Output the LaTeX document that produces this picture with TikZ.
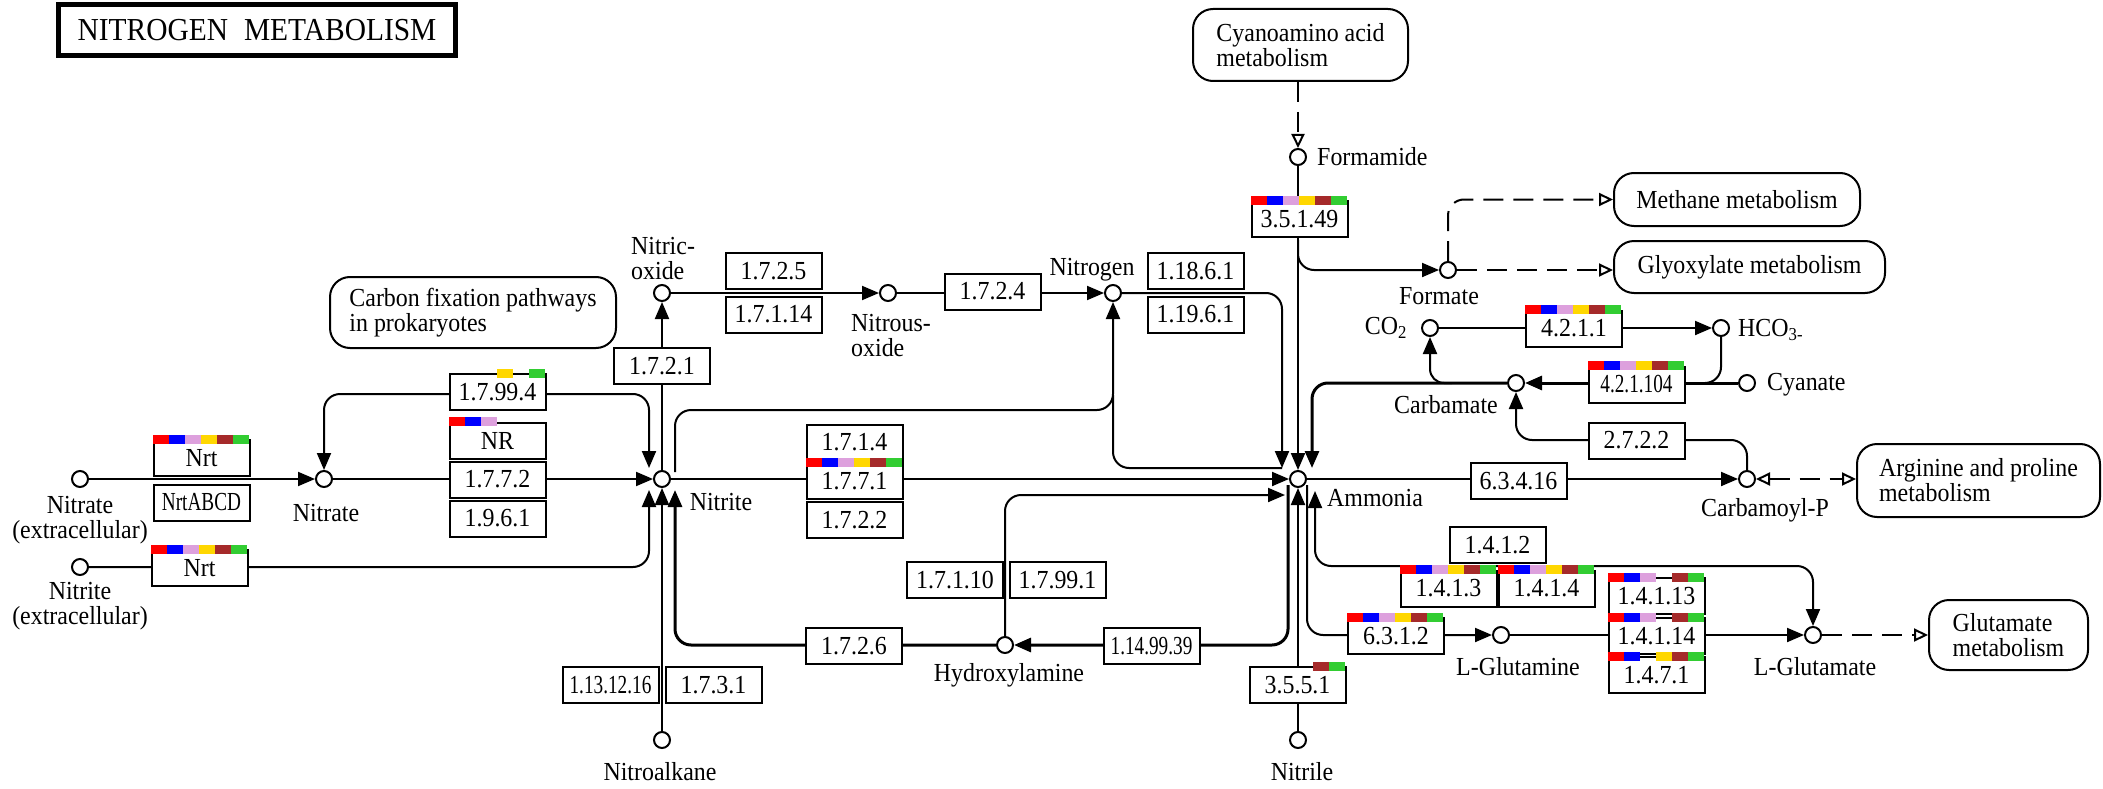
\documentclass[tikz,border=0pt]{standalone}
\usepackage{fontspec}
\setmainfont{Liberation Serif}[FakeStretch=0.92]
\newfontfamily\narrowf{Liberation Serif}[FakeStretch=0.74]
\usetikzlibrary{arrows.meta,calc}
\pgfdeclarelayer{bg}
\pgfsetlayers{bg,main}
\definecolor{c1}{HTML}{FF0000}
\definecolor{c2}{HTML}{0000FF}
\definecolor{c3}{HTML}{DDA0DD}
\definecolor{c4}{HTML}{FFD700}
\definecolor{c5}{HTML}{A52A2A}
\definecolor{c6}{HTML}{32CD32}
\newcommand\kfont{\fontsize{26}{25}\selectfont}
\newcommand\knarrow{\narrowf\fontsize{26}{25}\selectfont}
\newcommand\ktitle{\fontsize{32}{32}\selectfont}
\newcommand\cbar[2]{\foreach \s in {#2}{\fill[c\s] ($(#1.north west)+({(\s-1)*16},-4.5)$) rectangle ($(#1.north west)+({\s*16},4.5)$);}}
\begin{document}
\begin{tikzpicture}[x=1pt,y=-1pt,
  cpd/.style={circle,draw,fill=white,line width=2pt,minimum size=16pt,inner sep=0pt},
  ec/.style={draw,fill=white,line width=2pt,minimum width=96pt,minimum height=36pt,inner sep=0pt,font=\kfont},
  ecn/.style={ec,font=\knarrow},
  mapbox/.style={draw,fill=white,line width=2pt,rounded corners=20pt,align=left,inner sep=0pt,font=\kfont},
  lbl/.style={font=\kfont,inner sep=0pt},
  ln/.style={line width=2pt},
  lnb/.style={line width=3pt},
  arr/.style={-{Triangle[length=17pt,width=14pt]}},
  arrb/.style={{Triangle[length=17pt,width=14pt]}-{Triangle[length=17pt,width=14pt]}},
  oarr/.style={-{Triangle[open,length=14pt,width=13pt]}},
  oarrb/.style={{Triangle[open,length=14pt,width=13pt]}-{Triangle[open,length=14pt,width=13pt]}},
  dsh/.style={dash pattern=on 20pt off 10pt}]
\useasboundingbox (0,0) rectangle (2103,789);

% ---------- title and pathway maps ----------
\node[draw,line width=5pt,minimum width=397pt,minimum height=51pt,inner sep=0pt,font=\ktitle] (title) at (257,30) {NITROGEN\hspace{0.5em}METABOLISM};
\node[mapbox,minimum width=286pt,minimum height=71pt] (carbon) at (473,312.5) {Carbon fixation pathways\\in prokaryotes};
\node[mapbox,minimum width=215pt,minimum height=72pt] (cyano) at (1300.5,45) {Cyanoamino acid\\metabolism};
\node[mapbox,minimum width=246pt,minimum height=53pt] (methane) at (1737,199.5) {Methane metabolism};
\node[mapbox,minimum width=271pt,minimum height=52pt] (glyox) at (1749.5,267) {Glyoxylate metabolism};
\node[mapbox,minimum width=243pt,minimum height=73pt] (argmap) at (1978.5,480.5) {Arginine and proline\\metabolism};
\node[mapbox,minimum width=159pt,minimum height=70pt] (glumap) at (2008.5,635) {Glutamate\\metabolism};

% ---------- compounds ----------
\node[cpd] (nitrateEx) at (80,479) {};
\node[cpd] (nitriteEx) at (80,567) {};
\node[cpd] (nitrate) at (324,479) {};
\node[cpd] (nitrite) at (662,479) {};
\node[cpd] (nitric) at (662,293) {};
\node[cpd] (nitrous) at (888,293) {};
\node[cpd] (nitrogen) at (1113,293) {};
\node[cpd] (formamide) at (1298,157) {};
\node[cpd] (formate) at (1448,270) {};
\node[cpd] (co2) at (1430,328) {};
\node[cpd] (hco3) at (1721,328) {};
\node[cpd] (carbamate) at (1516,383) {};
\node[cpd] (cyanate) at (1747,383) {};
\node[cpd] (ammonia) at (1298,479) {};
\node[cpd] (carbamoylp) at (1747,479) {};
\node[cpd] (hydroxyl) at (1005,645) {};
\node[cpd] (nitroalkane) at (662,740) {};
\node[cpd] (nitrile) at (1298,740) {};
\node[cpd] (lgln) at (1501,635) {};
\node[cpd] (lglu) at (1813,635) {};

% ---------- compound labels ----------
\node[lbl,align=center] (lNitrateEx) at (80,520) {Nitrate\\(extracellular)};
\node[lbl,align=center] (lNitriteEx) at (80,606) {Nitrite\\(extracellular)};
\node[lbl] (lNitrate) at (326,513) {Nitrate};
\node[lbl] (lNitrite) at (721,502) {Nitrite};
\node[lbl,align=left,anchor=west] (lNitric) at (631,259) {Nitric-\\oxide};
\node[lbl,align=left,anchor=west] (lNitrous) at (851,336) {Nitrous-\\oxide};
\node[lbl] (lNitrogen) at (1092,270) {Nitrogen};
\node[lbl,anchor=west] (lFormamide) at (1317,157) {Formamide};
\node[lbl] (lFormate) at (1439,296) {Formate};
\node[lbl] (lCO2) at (1386,328) {CO\textsubscript{2}};
\node[lbl,anchor=west] (lHCO3) at (1738,330) {HCO\textsubscript{3-}};
\node[lbl] (lCarbamate) at (1446,405) {Carbamate};
\node[lbl,anchor=west] (lCyanate) at (1767,385) {Cyanate};
\node[lbl,anchor=west] (lAmmonia) at (1327,498) {Ammonia};
\node[lbl] (lCarbamoylP) at (1765,510) {Carbamoyl-P};
\node[lbl] (lHydroxyl) at (1009,675) {Hydroxylamine};
\node[lbl] (lNitroalkane) at (660,772) {Nitroalkane};
\node[lbl] (lNitrile) at (1302,772) {Nitrile};
\node[lbl] (lLgln) at (1518,667) {L-Glutamine};
\node[lbl] (lLglu) at (1815,667) {L-Glutamate};

% ---------- enzyme boxes ----------
\node[ec] (nrt1) at (201.5,458) {Nrt};
\node[ecn] (nrtabcd) at (201.5,502.5) {NrtABCD};
\node[ec] (nrt2) at (199.5,568) {Nrt};
\node[ec] (e179994) at (497.5,392) {1.7.99.4};
\node[ec] (nr) at (497.5,440.5) {NR};
\node[ec] (e1772) at (497.5,479.5) {1.7.7.2};
\node[ec] (e1961) at (497.5,518.5) {1.9.6.1};
\node[ec] (e1721) at (662,366) {1.7.2.1};
\node[ec] (e1725) at (773.5,271) {1.7.2.5};
\node[ec] (e17114) at (773.5,314.5) {1.7.1.14};
\node[ec] (e1724) at (992.5,291.5) {1.7.2.4};
\node[ec] (e11861) at (1195.5,271) {1.18.6.1};
\node[ec] (e11961) at (1195.5,314.5) {1.19.6.1};
\node[ec] (e35149) at (1299.5,219) {3.5.1.49};
\node[ec] (e1714) at (854.5,442.5) {1.7.1.4};
\node[ec] (e1771) at (854.5,481) {1.7.7.1};
\node[ec] (e1722) at (854.5,520) {1.7.2.2};
\node[ec] (e17110) at (955,580) {1.7.1.10};
\node[ec] (e17991) at (1057.5,580) {1.7.99.1};
\node[ec] (e1726) at (854,646) {1.7.2.6};
\node[ecn] (e1149939) at (1151.5,646) {1.14.99.39};
\node[ecn] (e1131216) at (610.5,685) {1.13.12.16};
\node[ec] (e1731) at (713.5,685) {1.7.3.1};
\node[ec] (e3551) at (1297.5,685) {3.5.5.1};
\node[ec] (e4211) at (1574,328.5) {4.2.1.1};
\node[ecn] (e421104) at (1636.5,384.5) {4.2.1.104};
\node[ec] (e2722) at (1636.5,440.5) {2.7.2.2};
\node[ec] (e63416) at (1518.5,481) {6.3.4.16};
\node[ec] (e1412) at (1497.5,545) {1.4.1.2};
\node[ec] (e1413) at (1448.5,588.5) {1.4.1.3};
\node[ec] (e1414) at (1546.5,588.5) {1.4.1.4};
\node[ec] (e6312) at (1396,636) {6.3.1.2};
\node[ec] (e14113) at (1656.5,596) {1.4.1.13};
\node[ec] (e14114) at (1656.5,636) {1.4.1.14};
\node[ec] (e1471) at (1656.5,675) {1.4.7.1};

% ---------- colour bars ----------
\cbar{nrt1}{1,2,3,4,5,6}
\cbar{nrt2}{1,2,3,4,5,6}
\cbar{e179994}{4,6}
\cbar{nr}{1,2,3}
\cbar{e1771}{1,2,3,4,5,6}
\cbar{e35149}{1,2,3,4,5,6}
\cbar{e3551}{5,6}
\cbar{e4211}{1,2,3,4,5,6}
\cbar{e421104}{1,2,3,4,5,6}
\cbar{e1413}{1,2,3,4,5,6}
\cbar{e1414}{1,2,3,4,5,6}
\cbar{e6312}{1,2,3,4,5,6}
\cbar{e14113}{1,2,3,5,6}
\cbar{e14114}{1,2,3,5,6}
\cbar{e1471}{1,2,4,5,6}

% ---------- connectors ----------
\begin{pgfonlayer}{bg}
\draw[ln,arr] (nitrateEx) -- (nitrate);
\draw[ln,rounded corners=16pt,arr] (nitriteEx) -- (649,567) -- ($(nitrite)+(-13,11)$);
\draw[ln,rounded corners=16pt,arrb] (nitrate.north) -- (324,394) -- (649,394) -- ($(nitrite)+(-13,-11)$);
\draw[ln,arr] (nitrate) -- (nitrite);
\draw[ln,arr] (nitrite) -- (nitric);
\draw[ln,arr] (nitroalkane) -- (nitrite);
\draw[lnb,rounded corners=16pt,arr] (hydroxyl) -- (675,645) -- ($(nitrite)+(13,11)$);
\draw[ln,arr] (nitric) -- (nitrous);
\draw[ln,arr] (nitrous) -- (nitrogen);
\draw[ln,rounded corners=16pt,arr] (nitrogen) -- (1282,293) -- ($(ammonia)+(-16,-11)$);
\draw[ln,rounded corners=16pt,arr] ($(nitrite)+(13,-7)$) -- (675,410) -- (1113,410) -- (nitrogen);
\draw[ln,rounded corners=16pt] (1113,395) -- (1113,468) -- ($(ammonia)+(-16,-11)$);
\draw[ln,arr] (nitrite) -- (ammonia);
\draw[ln,rounded corners=16pt,arr] (hydroxyl) -- (1005,495) -- ($(ammonia)+(-13,16)$);
\draw[lnb,rounded corners=16pt,arr] ($(ammonia)+(-10,6)$) -- (1288,645) -- (hydroxyl);
\draw[ln,arr] (formamide) -- (ammonia);
\draw[ln,rounded corners=16pt,arr] (1298,240) -- (1298,270) -- (formate);
\draw[ln,dsh,oarr] (cyano.south -| formamide) -- (formamide);
\draw[ln,dsh,rounded corners=16pt,oarr] (formate) -- (1448,199.5) -- (methane.west);
\draw[ln,dsh,oarr] (formate) -- (formate -| glyox.west);
\draw[ln,arr] (co2) -- (hco3);
\draw[lnb,arr] (cyanate) -- (carbamate);
\draw[ln,rounded corners=16pt] (hco3) -- (1721,383) -- (1690,383);
\draw[lnb,rounded corners=16pt,arr] (carbamate) -- (1312,383) -- ($(ammonia)+(14,-11)$);
\draw[ln,rounded corners=14pt,arr] (1452,383) -- (1430,383) -- (co2);
\draw[ln,rounded corners=16pt,arr] (carbamoylp) -- (1747,440) -- (1516,440) -- (carbamate);
\draw[ln,arr] (ammonia) -- (carbamoylp);
\draw[ln,dsh,oarrb] (carbamoylp) -- (carbamoylp -| argmap.west);
\draw[ln,arr] (nitrile) -- (ammonia);
\draw[ln,rounded corners=16pt,arr] ($(ammonia)+(9,6)$) -- (1307,635) -- (lgln);
\draw[ln,rounded corners=16pt,arrb] ($(ammonia)+(17,12)$) -- (1315,566) -- (1813,566) -- (lglu);
\draw[ln,arr] (lgln) -- (lglu);
\draw[ln,dsh,oarr] (lglu) -- (lglu -| glumap.west);
\end{pgfonlayer}
\end{tikzpicture}
\end{document}
